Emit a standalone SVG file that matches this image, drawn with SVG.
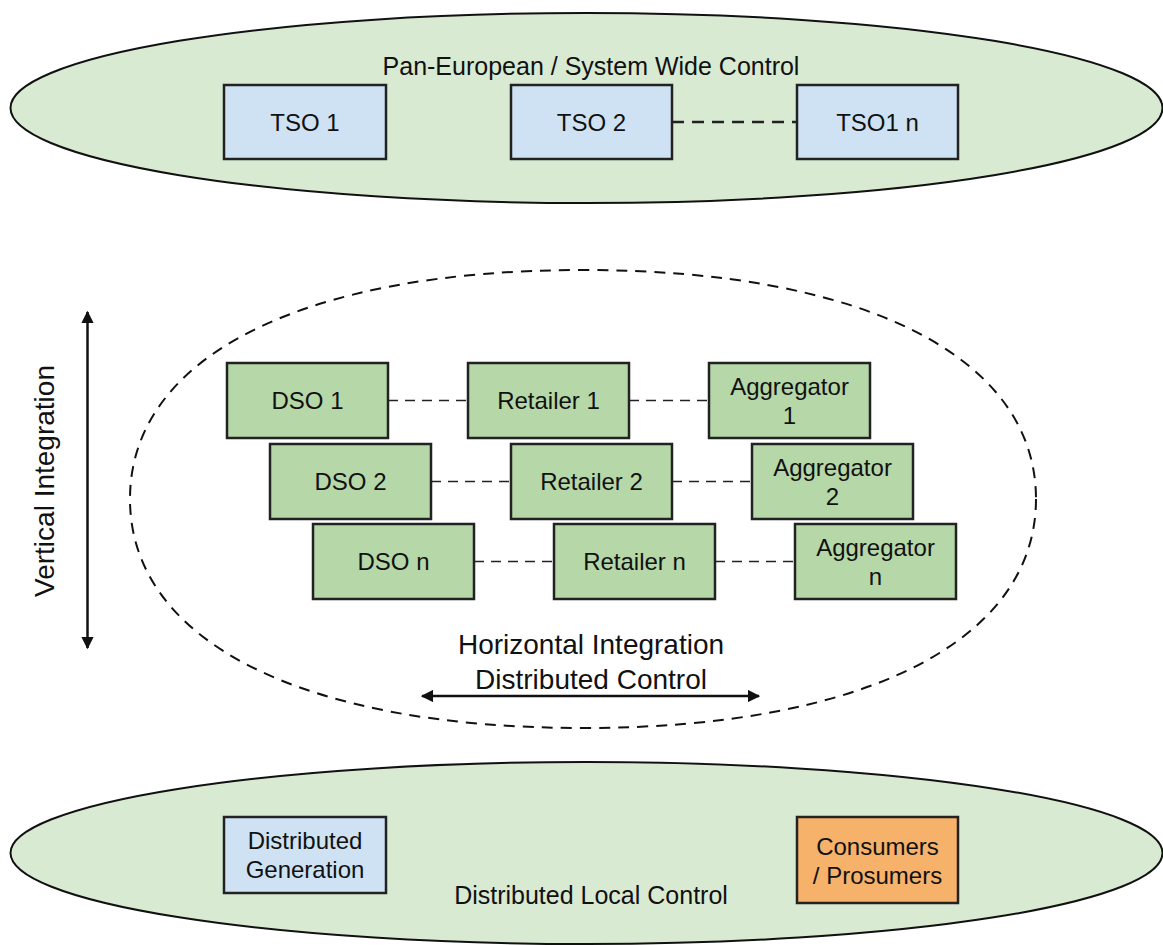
<svg xmlns="http://www.w3.org/2000/svg" width="1163" height="945" viewBox="0 0 1163 945">
<style>
text{font-family:"Liberation Sans",Arial,sans-serif;fill:#111;text-anchor:middle}
.t24{font-size:24px}
.t25{font-size:25px}
.t28{font-size:28px}
.zone{fill:#d9ead3;stroke:#111;stroke-width:2}
.tso{fill:#cfe2f3;stroke:#222;stroke-width:2.5}
.dso{fill:#b6d7a8;stroke:#222;stroke-width:2.5}
.cons{fill:#f6b26b;stroke:#222;stroke-width:2.5}
.dash{stroke:#222;stroke-width:1.6;stroke-dasharray:10 7;fill:none}
.arrow{stroke:#111;stroke-width:2.5;fill:none;marker-start:url(#ah);marker-end:url(#ah)}
</style>
<defs>
<marker id="ah" viewBox="0 0 10 10" refX="9" refY="5" markerWidth="5" markerHeight="5" markerUnits="strokeWidth" orient="auto-start-reverse">
<path d="M0,0 L10,5 L0,10 z" fill="#111"/>
</marker>
</defs>
<rect width="1163" height="945" fill="#fff"/>

<g id="zone-top">
<ellipse class="zone" cx="586.5" cy="108" rx="576" ry="95"/>
<text class="t25" x="591" y="75">Pan-European / System Wide Control</text>
</g>
<g id="zone-middle">
<path d="M1036,499 C1036,641 864,728 583,728 C302,728 130,641 130,499 C130,357 302,270 583,270 C864,270 1036,357 1036,499 Z" fill="none" stroke="#111" stroke-width="2" stroke-dasharray="11 8"/>
</g>
<g id="zone-bottom">
<ellipse class="zone" cx="586.5" cy="853" rx="576" ry="91"/>
<text class="t25" x="591" y="904">Distributed Local Control</text>
</g>

<g id="connectors">
<line x1="672" y1="122" x2="797" y2="122" stroke="#222" stroke-width="2.5" stroke-dasharray="12 8"/>
<line class="dash" x1="388" y1="400.5" x2="468" y2="400.5"/>
<line class="dash" x1="629" y1="400.5" x2="709" y2="400.5"/>
<line class="dash" x1="431" y1="481.5" x2="511" y2="481.5"/>
<line class="dash" x1="672" y1="481.5" x2="752" y2="481.5"/>
<line class="dash" x1="474" y1="561.5" x2="554" y2="561.5"/>
<line class="dash" x1="715" y1="561.5" x2="795" y2="561.5"/>
<line class="arrow" x1="87.5" y1="312" x2="87.5" y2="648"/>
<line class="arrow" x1="422" y1="696" x2="759" y2="696"/>
</g>

<g id="tso1"><rect class="tso" x="224" y="85" width="162" height="74"/><text class="t24" x="305" y="131">TSO 1</text></g>
<g id="tso2"><rect class="tso" x="511" y="85" width="161" height="74"/><text class="t24" x="591.5" y="131">TSO 2</text></g>
<g id="tson"><rect class="tso" x="797" y="85" width="161" height="74"/><text class="t24" x="877.5" y="131">TSO1 n</text></g>

<g id="dso1"><rect class="dso" x="227" y="363" width="161" height="75"/><text class="t24" x="307.5" y="409">DSO 1</text></g>
<g id="retailer1"><rect class="dso" x="468" y="363" width="161" height="75"/><text class="t24" x="548.5" y="409">Retailer 1</text></g>
<g id="aggregator1"><rect class="dso" x="709" y="363" width="161" height="75"/><text class="t24" x="789.5" y="395">Aggregator</text><text class="t24" x="789.5" y="424">1</text></g>

<g id="dso2"><rect class="dso" x="270" y="444" width="161" height="75"/><text class="t24" x="350.5" y="490">DSO 2</text></g>
<g id="retailer2"><rect class="dso" x="511" y="444" width="161" height="75"/><text class="t24" x="591.5" y="490">Retailer 2</text></g>
<g id="aggregator2"><rect class="dso" x="752" y="444" width="161" height="75"/><text class="t24" x="832.5" y="476">Aggregator</text><text class="t24" x="832.5" y="505">2</text></g>

<g id="dson"><rect class="dso" x="313" y="524" width="161" height="75"/><text class="t24" x="393.5" y="570">DSO n</text></g>
<g id="retailern"><rect class="dso" x="554" y="524" width="161" height="75"/><text class="t24" x="634.5" y="570">Retailer n</text></g>
<g id="aggregatorn"><rect class="dso" x="795" y="524" width="161" height="75"/><text class="t24" x="875.5" y="556">Aggregator</text><text class="t24" x="875.5" y="585">n</text></g>

<g id="label-vertical"><text class="t28" transform="translate(54,481) rotate(-90)">Vertical Integration</text></g>
<g id="label-horizontal"><text class="t28" x="591" y="654">Horizontal Integration</text><text class="t28" x="591" y="689">Distributed Control</text></g>

<g id="distributed-generation"><rect class="tso" x="224" y="817" width="162" height="76"/><text class="t24" x="305" y="849">Distributed</text><text class="t24" x="305" y="878">Generation</text></g>
<g id="consumers"><rect class="cons" x="797" y="817" width="161" height="86"/><text class="t24" x="877.5" y="855">Consumers</text><text class="t24" x="877.5" y="884">/ Prosumers</text></g>
</svg>
